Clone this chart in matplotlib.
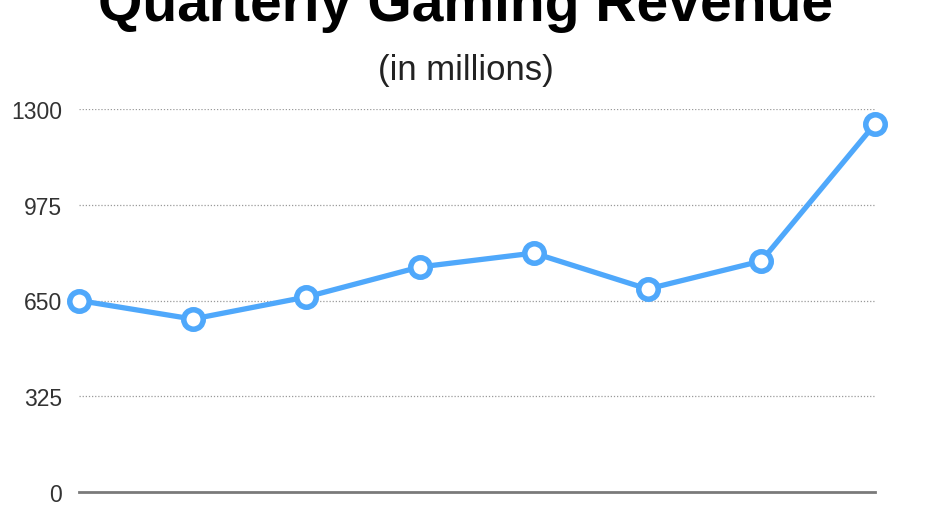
import matplotlib
matplotlib.use('Agg')
import matplotlib.pyplot as plt

quarters = ['Q1', 'Q2', 'Q3', 'Q4', 'Q5', 'Q6', 'Q7', 'Q8']
revenue = [650, 587, 662, 764, 811, 689, 784, 1249]
yticks = [0, 325, 650, 975, 1300]

plt.rcParams['font.family'] = ['Liberation Sans', 'DejaVu Sans']

fig = plt.figure(figsize=(9.31, 5.06), dpi=100)
ax = fig.add_axes([79 / 931, 1 - 493 / 506, (875 - 79) / 931, (493 - 110) / 506])

x = list(range(len(quarters)))
ax.plot(x, revenue, color='#4fa8fb', lw=3.8, marker='o', ms=14,
        mfc='white', mec='#4fa8fb', mew=4, clip_on=False, zorder=3)

ax.set_xlim(0, len(quarters) - 1)
ax.set_ylim(0, 1300)
ax.set_yticks(yticks)
ax.set_yticklabels([str(v) for v in yticks], fontsize=16.5, color='#333333')
ax.set_xticks([])
ax.tick_params(axis='y', length=0, pad=12)

for v in yticks[1:]:
    ax.axhline(v, color='#9a9a9a', lw=0.9, ls=(0, (1, 1.5)), zorder=1)

for s in ['top', 'right', 'left']:
    ax.spines[s].set_visible(False)
ax.spines['bottom'].set_color('#7a7a7a')
ax.spines['bottom'].set_linewidth(2)

fig.text(0.5, 1 - 21 / 506, 'Quarterly Gaming Revenue', ha='center', va='baseline',
         fontsize=41, fontweight='bold', color='black')
fig.text(0.5, 1 - 80 / 506, '(in millions)', ha='center', va='baseline',
         fontsize=25, color='#222222')

fig.savefig('out.png', dpi=100)
